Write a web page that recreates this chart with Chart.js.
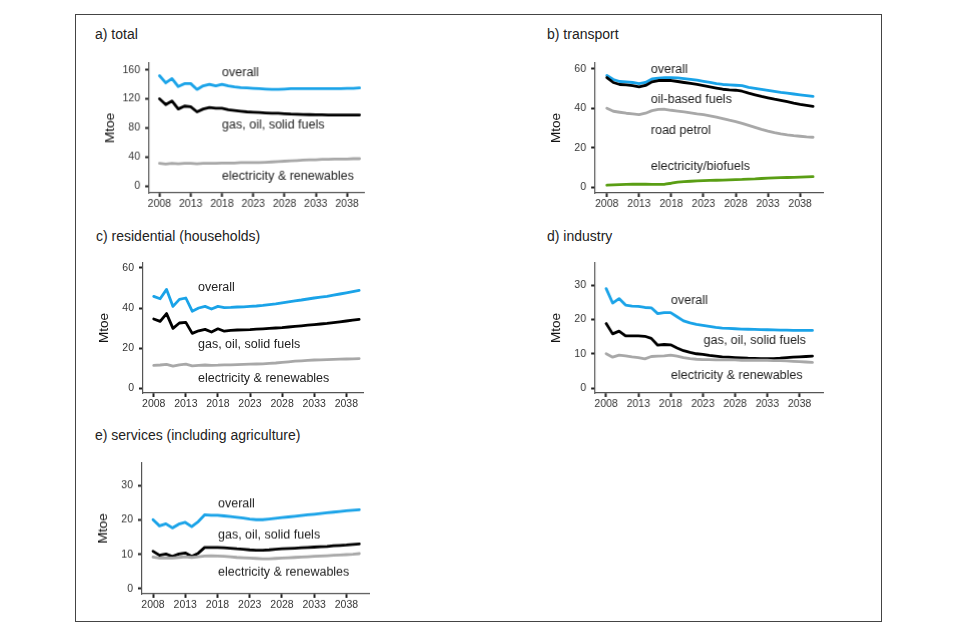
<!DOCTYPE html>
<html>
<head>
<meta charset="utf-8">
<script src="https://cdn.jsdelivr.net/npm/chart.js@4.4.0/dist/chart.umd.min.js"></script>
<style>
  body { margin: 0; background: #fff; width: 960px; height: 640px; position: relative; overflow: hidden; font-family: 'Liberation Sans', Arial, sans-serif; }
  #frame { position: absolute; left: 75px; top: 14px; width: 807px; height: 608px; border: 1px solid #444; box-sizing: border-box; }
  .ttl { position: absolute; font-size: 14px; color: #222; white-space: nowrap; line-height: 16px; }
  canvas { position: absolute; }
</style>
</head>
<body>
<div id="frame"></div>
<div class="ttl" style="left:95px; top:26px">a) total</div>
<div class="ttl" style="left:547px; top:26px">b) transport</div>
<div class="ttl" style="left:96px; top:228px">c) residential (households)</div>
<div class="ttl" style="left:547px; top:228px">d) industry</div>
<div class="ttl" style="left:95px; top:427px">e) services (including agriculture)</div>
<canvas id="pTotal"></canvas>
<canvas id="pTransport"></canvas>
<canvas id="pResidential"></canvas>
<canvas id="pIndustry"></canvas>
<canvas id="pServices"></canvas>
<script>
// years 2008..2040
var years = [2008,2009,2010,2011,2012,2013,2014,2015,2016,2017,2018,2019,2020,2021,2022,2023,2024,2025,2026,2027,2028,2029,2030,2031,2032,2033,2034,2035,2036,2037,2038,2039,2040]
var yearTicks = [2008, 2013, 2018, 2023, 2028, 2033, 2038]

// a) total
var totalOverall = [152,142,148,137,141,141,133,138,140,138,140,138,136.5,135.5,135,134.5,134,133.5,133,133,133.5,134,134,134,134,134,134,134,134,134,134.5,134.5,135]
var totalFossil = [120,112,117,106,110,109,102,106,108,107,107,105,104,103,102,101.5,101,100.5,100,100,99.5,99,98.7,98.5,98.2,98,98,97.8,97.8,97.8,97.8,97.8,97.8]
var totalElec = [31,30,31,30.5,31,31,30.5,31,31,31,31.5,31.5,31.5,32,32,32,32,32.5,33,33.5,34,34.5,35,35.5,36,36,36.5,36.5,37,37,37,37.5,37.5]
var totalTicks = [0, 40, 80, 120, 160]

// b) transport
var transOverall = [56.5,54.5,53.5,53.3,53,52.4,53,54.8,55.2,55.4,55.4,55.3,55,54.6,54.2,53.6,53,52.4,52,51.8,51.6,51.4,50.5,50,49.5,49,48.5,48,47.6,47.2,46.8,46.4,46]
var transOil = [55.5,53,52,51.8,51.4,50.8,51.5,53.3,54,54.1,54,53.5,53,52.5,52,51.4,50.8,50.2,49.6,49.3,49.1,48.6,47.6,46.8,46,45.3,44.6,44,43.3,42.6,42,41.5,41]
var transPetrol = [40,38.5,38,37.5,37.2,36.8,37.5,38.8,39.4,39.5,39,38.6,38.2,37.7,37.2,36.8,36.2,35.5,34.8,34,33.3,32.4,31.4,30.4,29.4,28.5,27.7,27.1,26.6,26.2,25.9,25.6,25.4]
var transElecBio = [1.2,1.4,1.5,1.6,1.7,1.8,1.7,1.6,1.6,1.7,2.2,2.8,3,3.2,3.4,3.5,3.6,3.7,3.8,3.9,4,4.1,4.3,4.4,4.6,4.8,4.9,5,5.1,5.2,5.3,5.4,5.5]
var transTicks = [0, 20, 40, 60]

// c) residential
var resOverall = [45.8,44.6,49.3,40.8,44.3,45,38.4,40,40.8,39.5,40.8,40.2,40.3,40.5,40.6,40.8,41,41.3,41.7,42.1,42.6,43.1,43.6,44,44.5,45,45.4,45.8,46.4,47,47.6,48.2,48.8]
var resFossil = [34.5,33.3,37.2,29.8,32.5,32.8,27.3,28.6,29.3,28,29.6,28.4,28.8,29,29.1,29.2,29.4,29.6,29.8,30,30.2,30.5,30.8,31.1,31.4,31.7,32,32.3,32.7,33.1,33.5,33.9,34.3]
var resElec = [11.3,11.5,11.8,10.9,11.6,11.9,11.1,11.3,11.5,11.3,11.4,11.6,11.6,11.7,11.8,11.9,12,12.1,12.3,12.5,12.8,13.1,13.4,13.6,13.8,14,14.1,14.2,14.3,14.4,14.5,14.6,14.7]
var resTicks = [0, 20, 40, 60]

// d) industry
var indOverall = [29,24.8,26.1,24.2,23.9,23.8,23.5,23.4,21.7,22,22,20.8,19.6,19,18.6,18.3,18,17.7,17.5,17.4,17.3,17.2,17.15,17.1,17.05,17,16.95,16.9,16.9,16.85,16.85,16.8,16.8]
var indFossil = [18.8,15.8,16.6,15.2,15.2,15.2,15.1,14.5,12.5,12.7,12.6,11.7,10.9,10.4,10,9.8,9.5,9.3,9.1,9,8.9,8.8,8.7,8.65,8.6,8.55,8.6,8.7,8.85,9,9.1,9.2,9.3]
var indElec = [10,9,9.6,9.4,9.1,8.9,8.5,9.2,9.3,9.4,9.6,9.3,8.9,8.6,8.4,8.3,8.3,8.2,8.2,8.2,8.2,8.1,8.1,8.1,8.1,8.1,8,8,7.9,7.8,7.7,7.6,7.5]
var indTicks = [0, 10, 20, 30]

// e) services
var servOverall = [20.1,18.3,18.9,17.7,18.8,19.3,18.1,19.5,21.5,21.4,21.4,21.2,21,20.8,20.6,20.3,20.1,20.1,20.3,20.5,20.7,20.9,21.1,21.3,21.5,21.7,21.9,22.1,22.3,22.5,22.7,22.85,23]
var servFossil = [10.9,9.7,10.1,9.4,10.1,10.4,9.4,10.3,12,12,12,11.9,11.8,11.6,11.5,11.3,11.2,11.2,11.3,11.5,11.6,11.7,11.8,11.9,12,12.1,12.2,12.3,12.5,12.6,12.7,12.85,13]
var servElec = [9.2,8.9,9,8.9,9.1,9.3,9.1,9.3,9.5,9.6,9.5,9.4,9.3,9.1,9,8.9,8.8,8.7,8.7,8.8,8.9,9,9.1,9.2,9.3,9.4,9.5,9.6,9.7,9.8,9.9,10,10.2]
var servTicks = [0, 10, 20, 30]

Chart.defaults.font.family = "'Liberation Sans', Arial, sans-serif";
Chart.defaults.color = '#333';

var BLUE = '#1aa3e8', BLACK = '#000000', GREY = '#a8a8a8', GREEN = '#5a9e14'

// draws the in-plot series names at data coordinates
var inlineLabels = {
    id: 'inlineLabels',
    afterDatasetsDraw: function(chart, args, opts){
        var ctx = chart.ctx
        var xs = chart.scales.x, ys = chart.scales.y
        ctx.save()
        ctx.font = "12.5px 'Liberation Sans', Arial, sans-serif"
        ctx.fillStyle = '#222'
        ctx.textAlign = 'left'
        ctx.textBaseline = 'middle'
        opts.items.forEach(function(it){
            ctx.fillText(it[0], xs.getPixelForValue(it[1]), ys.getPixelForValue(it[2]))
        })
        ctx.restore()
    }
}

function line(values, color){
    return {
        data: values.map(function(v, i){ return {x: years[i], y: v} }),
        borderColor: color,
        borderWidth: 2.8,
        pointRadius: 0,
        tension: 0,
        borderJoinStyle: 'round',
        borderCapStyle: 'round'
    }
}

function makePanel(id, box, xr, yr, yTicks, datasets, labels){
    var W = 50, H = 25, PT = 10, PR = 40
    var cv = document.getElementById(id)
    var w = box[2] - box[0] + W + PR, h = box[3] - box[1] + PT + H
    cv.style.left = (box[0] - W) + 'px'
    cv.style.top = (box[1] - PT) + 'px'
    cv.style.width = w + 'px'
    cv.style.height = h + 'px'
    cv.width = w
    cv.height = h
    return new Chart(cv.getContext('2d'), {
        type: 'line',
        data: { datasets: datasets },
        plugins: [inlineLabels],
        options: {
            responsive: false,
            animation: false,
            layout: { autoPadding: false, padding: { left: 0, top: PT, right: PR, bottom: 0 } },
            plugins: {
                legend: { display: false },
                tooltip: { enabled: false },
                inlineLabels: { items: labels }
            },
            scales: {
                x: {
                    type: 'linear',
                    min: xr[0], max: xr[1],
                    afterBuildTicks: function(s){ s.ticks = yearTicks.map(function(v){ return {value: v} }) },
                    afterFit: function(s){ s.height = H; s.paddingLeft = 0; s.paddingRight = 0 },
                    ticks: { color: '#333', font: { size: 10.5 }, padding: 1, maxRotation: 0, autoSkip: false, callback: function(v){ return String(v) } },
                    grid: { drawOnChartArea: false, drawTicks: true, tickLength: 4, tickWidth: 2, tickColor: '#222' },
                    border: { display: true, color: '#555', width: 1.2 }
                },
                y: {
                    min: yr[0], max: yr[1],
                    afterBuildTicks: function(s){ s.ticks = yTicks.map(function(v){ return {value: v} }) },
                    afterFit: function(s){ s.width = W; s.paddingTop = 0; s.paddingBottom = 0 },
                    ticks: { color: '#333', font: { size: 10.5 }, padding: 5, autoSkip: false },
                    grid: { drawOnChartArea: false, drawTicks: true, tickLength: 4, tickWidth: 2, tickColor: '#222' },
                    border: { display: true, color: '#555', width: 1.2 },
                    title: { display: true, text: 'Mtoe', color: '#111', font: { size: 13.5 }, padding: { top: 3, bottom: 0 } }
                }
            }
        }
    })
}

makePanel('pTotal', [149, 63.3, 363.5, 192.7], [2006.35, 2040.7], [-9.68, 169.3], totalTicks,
    [line(totalElec, GREY), line(totalFossil, BLACK), line(totalOverall, BLUE)],
    [['overall', 2018, 155.9], ['gas, oil, solid fuels', 2018, 84], ['electricity & renewables', 2018, 13.4]])

makePanel('pTransport', [595, 62.7, 822.7, 192.7], [2006.18, 2041.54], [-2.72, 62.83], transTicks,
    [line(transElecBio, GREEN), line(transPetrol, GREY), line(transOil, BLACK), line(transOverall, BLUE)],
    [['overall', 2014.83, 59.65], ['oil-based fuels', 2014.83, 44.4], ['road petrol', 2014.83, 28.9], ['electricity/biofuels', 2014.83, 10.4]])

makePanel('pResidential', [143.3, 263.3, 363.3, 393.3], [2006.33, 2040.6], [-2.5, 62.5], resTicks,
    [line(resElec, GREY), line(resFossil, BLACK), line(resOverall, BLUE)],
    [['overall', 2014.9, 50], ['gas, oil, solid fuels', 2014.9, 21.65], ['electricity & renewables', 2014.9, 4.65]])

makePanel('pIndustry', [595, 262.7, 822.7, 393.3], [2006.29, 2041.63], [-1.45, 36.48], indTicks,
    [line(indElec, GREY), line(indFossil, BLACK), line(indOverall, BLUE)],
    [['overall', 2018.04, 25.44], ['gas, oil, solid fuels', 2023.1, 13.83], ['electricity & renewables', 2018.04, 3.66]])

makePanel('pServices', [142.3, 463.3, 369.3, 594.3], [2006.29, 2041.5], [-1.54, 36.6], servTicks,
    [line(servElec, GREY), line(servFossil, BLACK), line(servOverall, BLUE)],
    [['overall', 2018.08, 24.76], ['gas, oil, solid fuels', 2018.08, 15.53], ['electricity & renewables', 2018.08, 4.75]])
</script>
</body>
</html>
